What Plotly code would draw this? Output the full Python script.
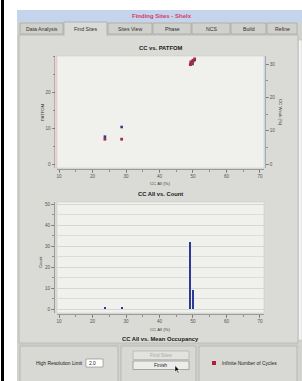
import plotly.graph_objects as go

W, H = 302, 381


def X(px):
    return px / W


def Y(py):
    return 1 - py / H


# ---------------- data ----------------
cc_all = [23.7, 28.7, 49.2, 49.4, 49.8, 50.0, 50.5]
patfom = [6.9, 6.9, 27.6, 28.4, 27.9, 28.8, 29.2]
cc_weak = [8.2, 11.1, 29.8, 30.4, 30.0, 30.8, 31.2]

hist_cc = [23.7, 28.7, 49.0, 50.1]
hist_count = [1, 1, 32, 9]

x_ticks = [10, 20, 30, 40, 50, 60, 70]
patfom_ticks = [0, 10, 20]
weak_ticks = [0, 10, 20, 30]
count_ticks = [0, 10, 20, 30, 40, 50]

tabs = ["Data Analysis", "Find Sites", "Sites View", "Phase", "NCS", "Build", "Refine"]
tab_edges = [20, 64, 108, 153, 192, 231, 267, 298]

FONT = "Liberation Sans, Arial, sans-serif"
TICKFONT = dict(family=FONT, size=4.6, color="#555555")

fig = go.Figure()

# CC Weak (blue, right axis) -> base y axis
fig.add_trace(go.Scatter(
    x=cc_all, y=cc_weak, mode="markers", xaxis="x", yaxis="y",
    marker=dict(symbol="square", size=2.6, color="#2a3c8e", line=dict(width=0)),
    showlegend=False, hoverinfo="skip"))
# PATFOM (red, left axis) -> overlaying y2
fig.add_trace(go.Scatter(
    x=cc_all, y=patfom, mode="markers", xaxis="x", yaxis="y2",
    marker=dict(symbol="square", size=2.8, color="#a82848", line=dict(width=0)),
    showlegend=False, hoverinfo="skip"))
# Count histogram
fig.add_trace(go.Bar(
    x=hist_cc, y=hist_count, width=0.6, xaxis="x2", yaxis="y3",
    marker=dict(color="#2a3a96", line=dict(width=0)),
    showlegend=False, hoverinfo="skip"))

shapes = []


def rect(x0, y0, x1, y1, fill, line=None, lw=0.6):
    shapes.append(dict(type="rect", xref="paper", yref="paper",
                       x0=X(x0), x1=X(x1), y0=Y(y1), y1=Y(y0),
                       fillcolor=fill, layer="below",
                       line=dict(color=line if line else fill, width=lw if line else 0)))


# left black border
rect(1, 0, 4, 381, "#000000")
# window frame
rect(17, 10, 302, 381, "#d2d2ce")
# title bar
rect(17, 10, 302, 22, "#c3d4ec")
# tabs
for i, t in enumerate(tabs):
    if t == "Find Sites":
        continue
    rect(tab_edges[i], 23, tab_edges[i + 1] - 1, 34, "#d0d0cc", "#9c9c9c", 0.6)
# main content panel
rect(19, 35, 298, 343, "#dadad6", "#a8a8a8", 0.6)
i_sel = tabs.index("Find Sites")
rect(tab_edges[i_sel], 22, tab_edges[i_sel + 1] - 1, 35.5, "#dadad6", "#9c9c9c", 0.6)
rect(tab_edges[i_sel] + 0.5, 34, tab_edges[i_sel + 1] - 1.5, 36, "#dadad6")
# right white strip
rect(298.5, 40, 302, 340, "#f4f4f4", "#b8b8b8", 0.5)
# plot backgrounds
rect(57, 56, 264, 168, "#f0f0ec", "#c6c6c2", 0.5)
rect(57, 202, 264, 313, "#f0f0ec", "#c6c6c2", 0.5)
# bottom area
rect(17, 343, 302, 381, "#d2d2ce")
rect(19, 343.5, 298, 344.3, "#b8b8b8")
rect(20, 346, 118, 382, "#d8d8d4", "#a4a4a4", 0.6)
rect(121, 346, 196, 382, "#d8d8d4", "#a4a4a4", 0.6)
rect(199, 346, 297, 382, "#d8d8d4", "#a4a4a4", 0.6)
# buttons
rect(133, 351, 189, 359.5, "#e2e2de", "#a8a8a8", 0.6)
rect(133, 361, 189, 369.5, "#ececea", "#7c7c7c", 0.6)
# input box
rect(86, 359, 103, 367, "#ffffff", "#808080", 0.6)
# red indicator
rect(212, 361, 216, 365, "#b02030")

# mouse cursor
pts = [(175, 365.5), (175, 372), (176.6, 370.5), (178, 373.2), (178.9, 372.8),
       (177.5, 370.1), (179.4, 370.1)]
path = "M " + " L ".join(f"{X(a):.5f},{Y(b):.5f}" for a, b in pts) + " Z"
shapes.append(dict(type="path", xref="paper", yref="paper", path=path,
                   fillcolor="#000000", line=dict(color="#ffffff", width=0.5),
                   layer="above"))

annotations = []


def text(px, py, s, size=5, color="#202020", anchor="center", angle=0, bold=False):
    annotations.append(dict(
        x=X(px), y=Y(py), xref="paper", yref="paper", text=f"<b>{s}</b>" if bold else s,
        showarrow=False, xanchor=anchor, yanchor="middle", textangle=angle,
        font=dict(family=FONT, size=size, color=color)))


text(162, 16, "Finding Sites - Shelx", size=6, color="#d43c6c", bold=True)
for i, t in enumerate(tabs):
    text((tab_edges[i] + tab_edges[i + 1] - 1) / 2, 29, t, size=5.2, color="#303030")
text(161, 48, "CC vs. PATFOM", size=5.8, bold=True)
text(42, 112, "PATFOM", size=4.3, color="#404040", angle=-90)
text(281, 112, "CC Weak (%)", size=4.3, color="#404040", angle=90)
text(160, 183, "CC All (%)", size=4.3, color="#404040")
text(160, 194, "CC All vs. Count", size=5.8, bold=True)
text(40, 262, "Count", size=4.3, color="#404040", angle=-90)
text(160, 329.5, "CC All (%)", size=4.3, color="#404040")
text(161, 339, "CC All vs. Mean Occupancy", size=5.8, bold=True)
text(84.5, 363, "High Resolution Limit", size=4.9, color="#202020", anchor="right")
text(87, 363, "2.0", size=4.9, color="#202020", anchor="left")
text(161, 355.3, "Find Sites", size=4.9, color="#a8a8a8")
text(161, 365.3, "Finish", size=4.9, color="#202020")
text(220, 363, "Infinite Number of Cycles", size=4.9, color="#202020", anchor="left")

minor_ticks = dict(dtick=5, ticks="outside", ticklen=2, tickcolor="#707070", tickwidth=0.7)
common_x = dict(range=[9.4, 71.2], tickvals=x_ticks, ticks="outside", ticklen=3,
                tickwidth=0.7, tickcolor="#707070", showline=True, linecolor="#8a8a8a",
                linewidth=0.8, showgrid=False, zeroline=False, tickfont=TICKFONT,
                minor=minor_ticks, anchor="free", fixedrange=True)
common_y = dict(ticks="outside", ticklen=3, tickwidth=0.7, tickcolor="#707070",
                showline=True, linewidth=0.8, zeroline=False,
                tickfont=TICKFONT, anchor="free", fixedrange=True)

fig.update_layout(
    width=W, height=H, autosize=False,
    margin=dict(l=0, r=0, t=0, b=0, pad=0),
    paper_bgcolor="#ffffff", plot_bgcolor="rgba(0,0,0,0)",
    shapes=shapes, annotations=annotations, bargap=0,
    xaxis=dict(domain=[X(57), X(264)], position=Y(168.7), **common_x),
    xaxis2=dict(domain=[X(57), X(264)], position=Y(313.7), **common_x),
    yaxis=dict(domain=[Y(168), Y(56)], range=[-1.2, 32.4], tickvals=weak_ticks,
               side="right", position=X(265), linecolor="#8c9ccc", showgrid=False,
               minor=minor_ticks, **common_y),
    yaxis2=dict(range=[-1.1, 30.0], tickvals=patfom_ticks, overlaying="y",
                side="left", position=X(54.5), linecolor="#d49494", showgrid=False,
                minor=minor_ticks, **common_y),
    yaxis3=dict(domain=[Y(313), Y(202)], range=[-1.9, 51], tickvals=count_ticks,
                side="left", position=X(54), linecolor="#8a8a8a",
                showgrid=True, gridcolor="#d4d4d0", gridwidth=0.7,
                minor=dict(minor_ticks, showgrid=True, gridcolor="#d4d4d0", gridwidth=0.7),
                **common_y),
)

fig.write_html("out.html", config=dict(displayModeBar=False, staticPlot=True),
               post_script="document.body.style.margin='0';document.body.style.padding='0';")
